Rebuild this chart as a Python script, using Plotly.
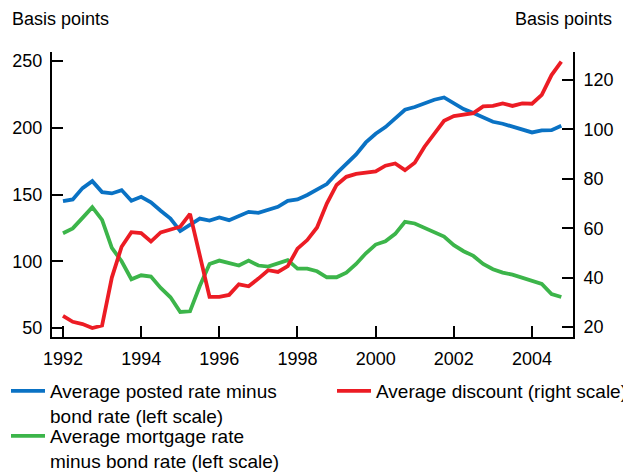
import plotly.graph_objects as go

# Quarterly dates, 1992Q1 .. 2004Q4
dates = [1992 + i * 0.25 for i in range(52)]

posted_minus_bond = [145, 146.3, 154.8, 160, 151.8, 150.8, 153.3, 145.3, 148.3, 144.1,
                     137.8, 132, 122.6, 127.6, 132, 130.5, 132.8, 130.8, 134, 137,
                     136.3, 138.8, 140.8, 145.3, 146.3, 149.6, 153.3, 157.8, 165.8, 173,
                     180, 189, 195.5, 200.5, 207, 213.5, 215.5, 218, 221, 222.7,
                     218.3, 214, 211, 207.5, 204.5, 203, 200.8, 199, 196.5, 198,
                     198.2, 201.5]

mortgage_minus_bond = [121, 124.6, 132.5, 140.5, 131, 110, 100, 86.5, 89.5, 88.5,
                       80, 73, 62, 62.5, 81.5, 98, 100.5, 98.5, 96.8, 100.5,
                       96.8, 96, 98.5, 100.8, 94.5, 94.5, 92.5, 88, 88, 91.5,
                       98, 106, 112.5, 115, 120.5, 129.5, 128.3, 125, 122, 118.5,
                       112, 107.5, 104, 98, 94, 91.5, 90, 87.8, 85, 83,
                       75.5, 73.2]

average_discount = [24.5, 22.1, 21.2, 19.6, 20.6, 40, 52.5, 58.4, 58, 54.6,
                    58.3, 59.4, 60.6, 65.8, 49, 32.2, 32.2, 33, 37.3, 36.5,
                    39.6, 43, 42.3, 44.6, 51.7, 55.2, 60.3, 70, 77.5, 80.8,
                    82, 82.4, 83, 85.3, 86.2, 83.5, 86.5, 93, 98.5, 103.5,
                    105.4, 106, 106.6, 109.3, 109.5, 110.5, 109.5, 110.5, 110.4, 114,
                    122, 127.4]

x_ticks = [1992, 1994, 1996, 1998, 2000, 2002, 2004]
left_ticks = [50, 100, 150, 200, 250]
right_ticks = [20, 40, 60, 80, 100, 120]

BLUE = "#0a72c4"
GREEN = "#3cb54a"
RED = "#ec1c24"
FONT = "Liberation Sans, Arial, sans-serif"
LW = 3.8

# The page body has an 8px margin: figure coordinates = page coordinates - 8
OFF = 8
W, H = 631 - OFF, 472 - OFF
L, T = 52 - OFF, 52 - OFF
PW, PH = 521, 285
R, B = W - L - PW, H - T - PH


def px_x(page_x):
    return (page_x - OFF - L) / PW


def px_y(page_y):
    return (T + PH - (page_y - OFF)) / PH


fig = go.Figure()
fig.add_trace(go.Scatter(x=dates, y=posted_minus_bond, mode="lines",
                         line=dict(color=BLUE, width=LW), legend="legend",
                         name="Average posted rate minus<br>bond rate (left scale)"))
fig.add_trace(go.Scatter(x=dates, y=mortgage_minus_bond, mode="lines",
                         line=dict(color=GREEN, width=LW), legend="legend3",
                         name="Average mortgage rate<br>minus bond rate (left scale)"))
fig.add_trace(go.Scatter(x=dates, y=average_discount, mode="lines", yaxis="y2",
                         line=dict(color=RED, width=LW), legend="legend2",
                         name="Average discount (right scale)"))

axis_common = dict(showgrid=False, zeroline=False, showline=True, linecolor="black",
                   linewidth=2, ticks="inside", ticklen=11, tickwidth=2,
                   tickcolor="black", tickfont=dict(family=FONT, size=18, color="black"))

leg_common = dict(orientation="v", xref="paper", yref="paper",
                  xanchor="left", yanchor="top",
                  font=dict(family=FONT, size=19, color="black"),
                  itemwidth=34, valign="top", bgcolor="rgba(0,0,0,0)",
                  borderwidth=0, tracegroupgap=0)

top1 = 372  # page y of legend row 1 box top
fig.update_layout(
    width=W, height=H,
    margin=dict(l=L, r=R, t=T, b=B, autoexpand=False),
    paper_bgcolor="white", plot_bgcolor="white",
    font=dict(family=FONT, size=18, color="black"),
    xaxis=dict(range=[1991.719, 2005.049], tickvals=x_ticks,
               ticktext=[str(t) for t in x_ticks], ticklabelstandoff=4,
               **axis_common),
    yaxis=dict(range=[43.26, 256.74], tickvals=left_ticks, ticklabelstandoff=4,
               **axis_common),
    yaxis2=dict(range=[15.95, 131.34], tickvals=right_ticks, overlaying="y",
                side="right", ticklabelstandoff=5, **axis_common),
    showlegend=True,
    legend=dict(x=px_x(6), y=px_y(top1), **leg_common),
    legend2=dict(x=px_x(332), y=px_y(top1), **leg_common),
    legend3=dict(x=px_x(6), y=px_y(top1 + 45), **leg_common),
    annotations=[
        dict(text="Basis points", xref="paper", yref="paper", x=0, y=1,
             xanchor="left", yanchor="middle", showarrow=False,
             xshift=-42, yshift=33, font=dict(family=FONT, size=18, color="black")),
        dict(text="Basis points", xref="paper", yref="paper", x=1, y=1,
             xanchor="right", yanchor="middle", showarrow=False,
             xshift=41, yshift=33, font=dict(family=FONT, size=18, color="black")),
    ],
)

fig.write_html("out.html")
